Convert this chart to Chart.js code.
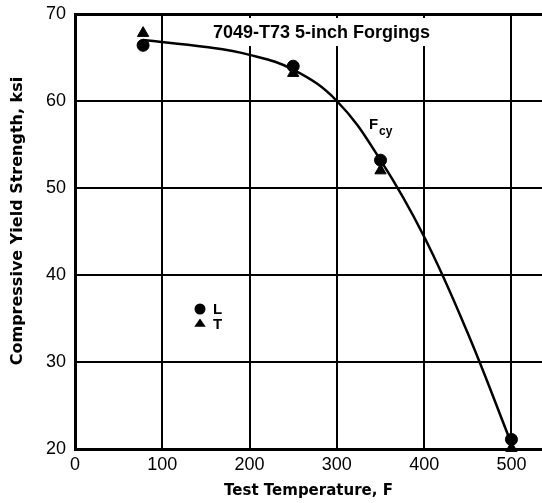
<!DOCTYPE html>
<html>
<head>
<meta charset="utf-8">
<script src="https://cdn.jsdelivr.net/npm/chart.js@4/dist/chart.umd.min.js"></script>
<style>
  html, body { margin: 0; padding: 0; background: #fff; }
  #wrap { width: 542px; height: 503px; }
</style>
</head>
<body>
<div id="wrap"><canvas id="c" width="542" height="503"></canvas></div>
<script>
// Test results, longitudinal (L) and transverse (T) directions
const tempL = [78, 250, 350, 500];
const strengthL = [66.4, 64.0, 53.2, 21.1];
const tempT = [78, 250, 350, 500];
const strengthT = [67.8, 63.2, 52.0, 20.1];

// Faired design curve for Fcy
const curveTemp = [78, 150, 200, 250, 300, 350, 400, 450, 500];
const curveFcy = [67.0, 66.2, 65.3, 63.6, 60.0, 53.2, 44.4, 33.3, 20.6];

// Axis ticks
const xTicks = [0, 100, 200, 300, 400, 500];
const yTicks = [20, 30, 40, 50, 60, 70];

const chartTitle = '7049-T73 5-inch Forgings';
const xTitle = 'Test Temperature, F';
const yTitle = 'Compressive Yield Strength, ksi';
const legendItems = [{ label: 'L', style: 'circle' }, { label: 'T', style: 'triangle' }];

const toXY = (xs, ys) => xs.map((x, i) => ({ x: x, y: ys[i] }));

function drawMarker(ctx, style, x, y, r) {
  ctx.beginPath();
  if (style === 'circle') {
    ctx.arc(x, y, r, 0, Math.PI * 2);
  } else {
    const h = r * 1.5;
    ctx.moveTo(x, y - h * 0.667);
    ctx.lineTo(x + r * 1.05, y + h * 0.333);
    ctx.lineTo(x - r * 1.05, y + h * 0.333);
    ctx.closePath();
  }
  ctx.fill();
}

const decorations = {
  id: 'decorations',
  beforeDatasetsDraw(chart) {
    const { ctx, chartArea } = chart;
    ctx.save();
    // chart title sits in a white box over the grid
    ctx.font = 'bold 18px "Liberation Sans", Arial, sans-serif';
    const tw = ctx.measureText(chartTitle).width;
    const tx = 213, ty = 33;
    ctx.fillStyle = '#fff';
    ctx.fillRect(tx - 4, chartArea.top + 4, tw + 8, 28);
    ctx.fillStyle = '#000';
    ctx.textBaseline = 'middle';
    ctx.fillText(chartTitle, tx, ty);
    ctx.restore();
  },
  afterDraw(chart) {
    const { ctx } = chart;
    ctx.save();
    ctx.fillStyle = '#000';
    // curve label F_cy
    ctx.textBaseline = 'alphabetic';
    ctx.font = 'bold 15px "Liberation Sans", Arial, sans-serif';
    ctx.fillText('F', 369, 129);
    ctx.font = 'bold 12px "Liberation Sans", Arial, sans-serif';
    ctx.fillText('cy', 379, 135);
    // legend
    ctx.font = 'bold 15px "Liberation Sans", Arial, sans-serif';
    ctx.textBaseline = 'middle';
    legendItems.forEach((it, i) => {
      const y = 309 + i * 15;
      drawMarker(ctx, it.style, 200, y, 5.5);
      ctx.fillText(it.label, 213, y + 1);
    });
    // y axis title
    ctx.font = 'bold 16px "DejaVu Sans", sans-serif';
    ctx.textAlign = 'center';
    ctx.textBaseline = 'middle';
    ctx.translate(18, 221);
    ctx.rotate(-Math.PI / 2);
    ctx.fillText(yTitle, 0, 0);
    ctx.restore();
  }
};

const tickFont = { family: '"Liberation Sans", Arial, sans-serif', size: 18 };

new Chart(document.getElementById('c'), {
  type: 'scatter',
  data: {
    datasets: [
      {
        label: 'Fcy',
        data: toXY(curveTemp, curveFcy),
        showLine: true,
        pointRadius: 0,
        borderColor: '#000',
        borderWidth: 2.5,
        tension: 0.4,
        clip: false
      },
      {
        label: 'L',
        data: toXY(tempL, strengthL),
        pointStyle: 'circle',
        pointRadius: 6,
        backgroundColor: '#000',
        borderColor: '#000',
        borderWidth: 1,
        clip: false
      },
      {
        label: 'T',
        data: toXY(tempT, strengthT),
        pointStyle: 'triangle',
        pointRadius: 6.5,
        backgroundColor: '#000',
        borderColor: '#000',
        borderWidth: 1,
        clip: false
      }
    ]
  },
  options: {
    responsive: false,
    animation: false,
    devicePixelRatio: 1,
    layout: { autoPadding: false, padding: { top: 14, right: 0, left: 0, bottom: 0 } },
    plugins: { legend: { display: false }, tooltip: { enabled: false } },
    scales: {
      x: {
        type: 'linear',
        min: 0,
        max: 535,
        afterBuildTicks: s => { s.ticks = xTicks.map(v => ({ value: v })); },
        afterFit: s => { s.height = 54; s.paddingRight = 0; s.paddingLeft = 0; },
        grid: { color: '#000', lineWidth: 2, drawTicks: false },
        border: { color: '#000', width: 3 },
        ticks: { font: tickFont, color: '#000', padding: 5, maxRotation: 0 },
        title: {
          display: true,
          text: xTitle,
          color: '#000',
          font: { family: '"DejaVu Sans", sans-serif', size: 15, weight: 'bold' },
          padding: { top: 0, bottom: 3 }
        }
      },
      y: {
        type: 'linear',
        min: 20,
        max: 70,
        afterBuildTicks: s => { s.ticks = yTicks.map(v => ({ value: v })); },
        afterFit: s => { s.width = 75; s.paddingTop = 0; s.paddingBottom = 0; },
        grid: {
          color: '#000',
          lineWidth: c => (c.tick && c.tick.value === 70 ? 3 : 2),
          drawTicks: false
        },
        border: { color: '#000', width: 3 },
        ticks: { font: tickFont, color: '#000', padding: 9 }
      }
    }
  },
  plugins: [decorations]
});
</script>
</body>
</html>
